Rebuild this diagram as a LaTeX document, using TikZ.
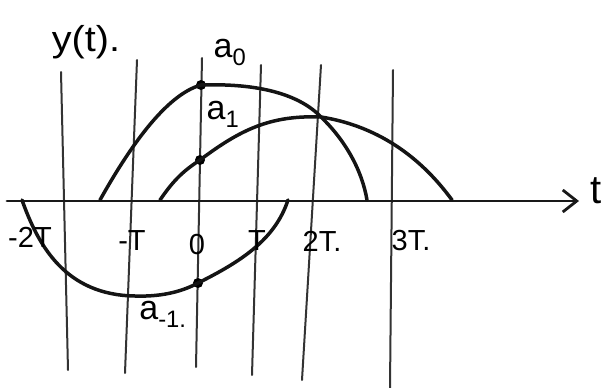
\documentclass[tikz,border=0pt]{standalone}
\usepackage{fontspec}
\setmainfont{Liberation Sans}
\usetikzlibrary{arrows.meta}
\begin{document}
\begin{tikzpicture}[x=1pt,y=-1pt,
  gridline/.style={draw=black!80,line width=2pt,line cap=round},
  curve/.style={draw=black!92,line width=3.5pt,line cap=round,line join=round},
  axisline/.style={draw=black!90,line width=2.8pt,line cap=round},
  lbl/.style={inner sep=0pt,font=\fontsize{29}{29}\selectfont},
  alabel/.style={inner sep=0pt,font=\fontsize{34}{34}\selectfont},
  dotmark/.style={circle,fill=black,inner sep=0pt,minimum size=10pt}]
\useasboundingbox (0,0) rectangle (616,388);
% grid lines
\coordinate (g1t) at (61,72);  \coordinate (g1b) at (68,370);
\coordinate (g2t) at (137,60); \coordinate (g2b) at (125,373);
\coordinate (g3t) at (202,58); \coordinate (g3b) at (196,367);
\coordinate (g4t) at (261,65); \coordinate (g4b) at (252,375);
\coordinate (g5t) at (321,65); \coordinate (g5b) at (302,380);
\coordinate (g6t) at (393,70); \coordinate (g6b) at (390,388);
\foreach \i in {1,...,6} {\draw[gridline] (g\i t) -- (g\i b);}
% axis
\coordinate (ax0) at (7,201);
\coordinate (ax1) at (579,201);
\draw[axisline,-{Straight Barb[length=14pt,width=22pt,line width=2.8pt]}] (ax0) -- (ax1);
\node[inner sep=0pt,font=\fontsize{40}{40}\selectfont] (tl) at (596,191) {t};
% dots
\node[dotmark] (d0) at (201,85) {};
\node[dotmark] (d1) at (200,160) {};
\node[dotmark] (dm1) at (198,283) {};
% curves
\coordinate (a0s) at (100,200); \coordinate (a0x) at (321,117); \coordinate (a0e) at (367,200);
\draw[curve] (a0s) .. controls (128,150) and (165,95) .. (d0.center)
  .. controls (260,83) and (300,95) .. (a0x)
  .. controls (345,140) and (362,170) .. (a0e);
\coordinate (a1s) at (160,200); \coordinate (a1e) at (452,200);
\draw[curve] (a1s) .. controls (175,178) and (185,170) .. (d1.center)
  .. controls (240,130) and (270,115) .. (a0x)
  .. controls (390,128) and (430,170) .. (a1e);
\coordinate (ams) at (22,200); \coordinate (amb) at (135,296); \coordinate (ame) at (288,200);
\draw[curve] (ams) .. controls (38,245) and (65,295) .. (amb)
  .. controls (165,297) and (185,290) .. (dm1.center)
  .. controls (240,262) and (275,240) .. (ame);
% labels
\node[inner sep=0pt,font=\fontsize{36}{36}\selectfont,xscale=1.1] (yt) at (86,42) {y(t).};
\node[alabel] (a0) at (230,52) {a\textsubscript{0}};
\node[alabel] (a1) at (223,114) {a\textsubscript{1}};
\node[alabel] (am1) at (163,314) {a\textsubscript{-1.}};
\node[lbl] (m2T) at (30,237) {-2T};
\node[lbl] (mT) at (132,241) {-T};
\node[lbl] (z) at (197,245) {0};
\node[lbl] (T) at (257,241) {T};
\node[lbl] (t2) at (322,241) {2T.};
\node[lbl] (t3) at (411,241) {3T.};
\end{tikzpicture}
\end{document}
